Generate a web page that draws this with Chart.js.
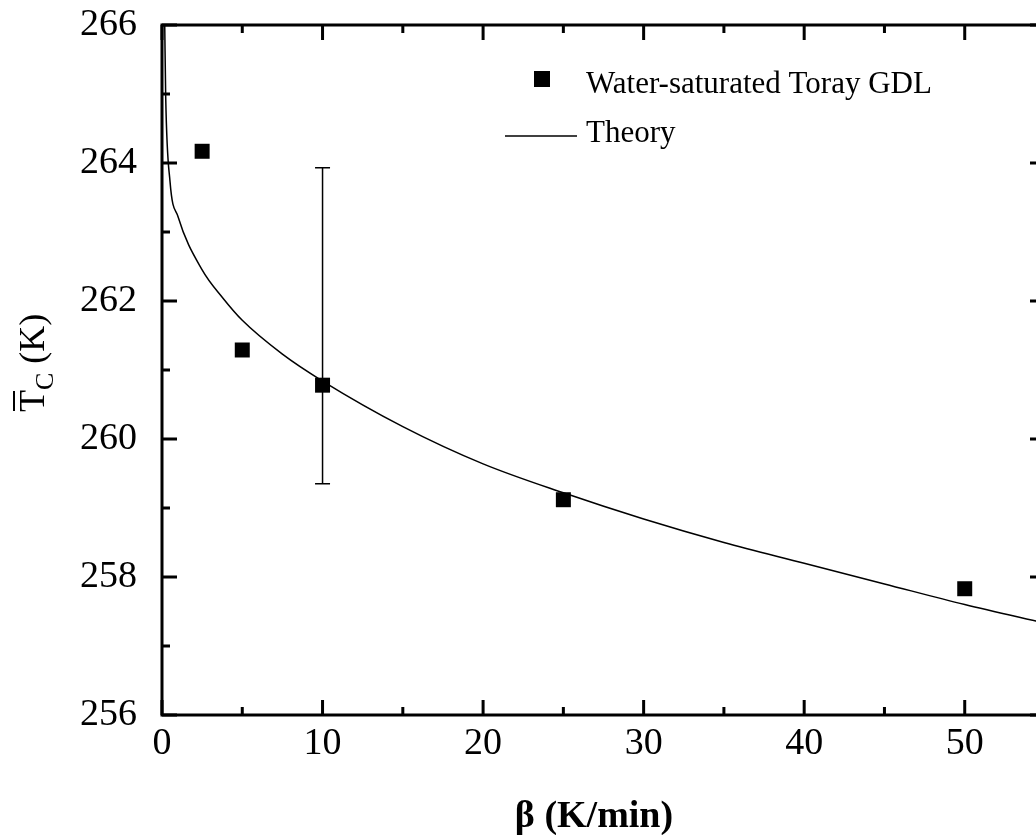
<!DOCTYPE html>
<html>
<head>
<meta charset="utf-8">
<title>Tc vs cooling rate</title>
<script src="https://cdn.jsdelivr.net/npm/chart.js@4"></script>
<style>
body{margin:0;overflow:hidden;background:#fff;}
#wrap{position:absolute;left:0;top:0;width:1060px;height:835px;}
</style>
</head>
<body>
<div id="wrap"><canvas id="myChart" width="1060" height="835"></canvas></div>
<script>
// measured mean freezing temperature vs cooling rate
var rates=[2.5,5,10,25,50];
var tcMeasured=[264.17,261.29,260.78,259.12,257.83];
var errLow=[null,null,259.35,null,null];
var errHigh=[null,null,263.93,null,null];

// theory curve
var theoryRate=[0.17,0.23,0.5,1,2.5,3.8,5,7.5,10,15,20,25,30,35,40,45,50,55];
var theoryTc=[266.0,264.96,263.73,263.22,262.45,262.04,261.72,261.23,260.84,260.18,259.64,259.22,258.84,258.5,258.2,257.9,257.6,257.33];

var xTicks=[0,10,20,30,40,50];
var yTicks=[256,258,260,262,264,266];

var serif="'Liberation Serif', 'Times New Roman', serif";

function minorOf(major){
  var out=[];
  var step=major[1]-major[0];
  for(var i=0;i<major.length;i++) out.push(major[i]+step/2);
  return out;
}

var frame={
  id:'frame',
  beforeDatasetsDraw:function(chart){
    var ctx=chart.ctx, xs=chart.scales.x, ys=chart.scales.y;
    ctx.save();
    ctx.strokeStyle='#000';
    ctx.lineWidth=1.5;
    for(var i=0;i<rates.length;i++){
      if(errLow[i]==null) continue;
      var x=xs.getPixelForValue(rates[i]);
      var y1=ys.getPixelForValue(errLow[i]);
      var y2=ys.getPixelForValue(errHigh[i]);
      ctx.beginPath();
      ctx.moveTo(x,y1);ctx.lineTo(x,y2);
      ctx.moveTo(x-7.5,y1);ctx.lineTo(x+7.5,y1);
      ctx.moveTo(x-7.5,y2);ctx.lineTo(x+7.5,y2);
      ctx.stroke();
    }
    ctx.restore();
  },
  afterDraw:function(chart){
    var ctx=chart.ctx, a=chart.chartArea, xs=chart.scales.x, ys=chart.scales.y;
    ctx.save();
    ctx.strokeStyle='#000';
    ctx.lineWidth=3;
    ctx.strokeRect(a.left,a.top,a.right-a.left,a.bottom-a.top);

    // inward ticks on all four sides
    function xt(v,len){
      var p=xs.getPixelForValue(v);
      ctx.beginPath();
      ctx.moveTo(p,a.bottom);ctx.lineTo(p,a.bottom-len);
      ctx.moveTo(p,a.top);ctx.lineTo(p,a.top+len);
      ctx.stroke();
    }
    function yt(v,len){
      var p=ys.getPixelForValue(v);
      ctx.beginPath();
      ctx.moveTo(a.left,p);ctx.lineTo(a.left+len,p);
      ctx.moveTo(a.right,p);ctx.lineTo(a.right-len,p);
      ctx.stroke();
    }
    xTicks.forEach(function(v){xt(v,15);});
    minorOf(xTicks).forEach(function(v){xt(v,8);});
    yTicks.forEach(function(v){yt(v,15);});
    minorOf(yTicks).slice(0,-1).forEach(function(v){yt(v,8);});

    // legend
    ctx.fillStyle='#000';
    ctx.fillRect(534,71,16,16);
    ctx.lineWidth=1.5;
    ctx.beginPath();ctx.moveTo(505,136);ctx.lineTo(577,136);ctx.stroke();
    ctx.font='31px '+serif;
    ctx.textAlign='left';
    ctx.textBaseline='alphabetic';
    ctx.fillText('Water-saturated Toray GDL',586,93);
    ctx.fillText('Theory',586,142);

    // x axis title
    ctx.font='bold 38px '+serif;
    ctx.textAlign='center';
    ctx.fillText('\u03B2 (K/min)',594,827);

    // y axis title: T with overbar, subscript C
    ctx.translate(44,412);
    ctx.rotate(-Math.PI/2);
    ctx.textAlign='left';
    ctx.font='36px '+serif;
    var wT=ctx.measureText('T').width;
    ctx.fillText('T',0,0);
    ctx.lineWidth=2;
    ctx.beginPath();ctx.moveTo(1,-30);ctx.lineTo(wT-1,-30);ctx.stroke();
    ctx.font='26px '+serif;
    ctx.fillText('C',wT,9);
    var wC=ctx.measureText('C').width;
    ctx.font='36px '+serif;
    ctx.fillText(' (K)',wT+wC,0);
    ctx.restore();
  }
};

var ctx=document.getElementById('myChart');
var myChart=new Chart(ctx,{
  type:'scatter',
  data:{
    datasets:[
      {
        label:'Water-saturated Toray GDL',
        data:rates.map(function(r,i){return {x:r,y:tcMeasured[i]};}),
        pointStyle:'rect',
        pointRadius:10.6,
        backgroundColor:'#000',
        borderColor:'#000',
        borderWidth:0,
        showLine:false
      },
      {
        label:'Theory',
        data:theoryRate.map(function(r,i){return {x:r,y:theoryTc[i]};}),
        showLine:true,
        pointRadius:0,
        borderColor:'#000',
        borderWidth:1.5,
        cubicInterpolationMode:'monotone',
        fill:false
      }
    ]
  },
  options:{
    responsive:false,
    animation:false,
    layout:{padding:{top:25,right:15,left:0,bottom:0}},
    plugins:{legend:{display:false},tooltip:{enabled:false}},
    scales:{
      x:{
        type:'linear',min:0,max:55,
        grid:{display:false,drawTicks:false},
        border:{display:false},
        afterBuildTicks:function(s){s.ticks=xTicks.map(function(v){return {value:v};});},
        afterFit:function(s){s.height=120;s.paddingLeft=0;s.paddingRight=0;},
        ticks:{color:'#000',padding:6,maxRotation:0,font:{family:serif,size:38}}
      },
      y:{
        type:'linear',min:256,max:266,
        grid:{display:false,drawTicks:false},
        border:{display:false},
        afterBuildTicks:function(s){s.ticks=yTicks.map(function(v){return {value:v};});},
        afterFit:function(s){s.width=162;s.paddingTop=0;s.paddingBottom=0;},
        ticks:{color:'#000',padding:25,font:{family:serif,size:38}}
      }
    }
  },
  plugins:[frame]
});
</script>
</body>
</html>
